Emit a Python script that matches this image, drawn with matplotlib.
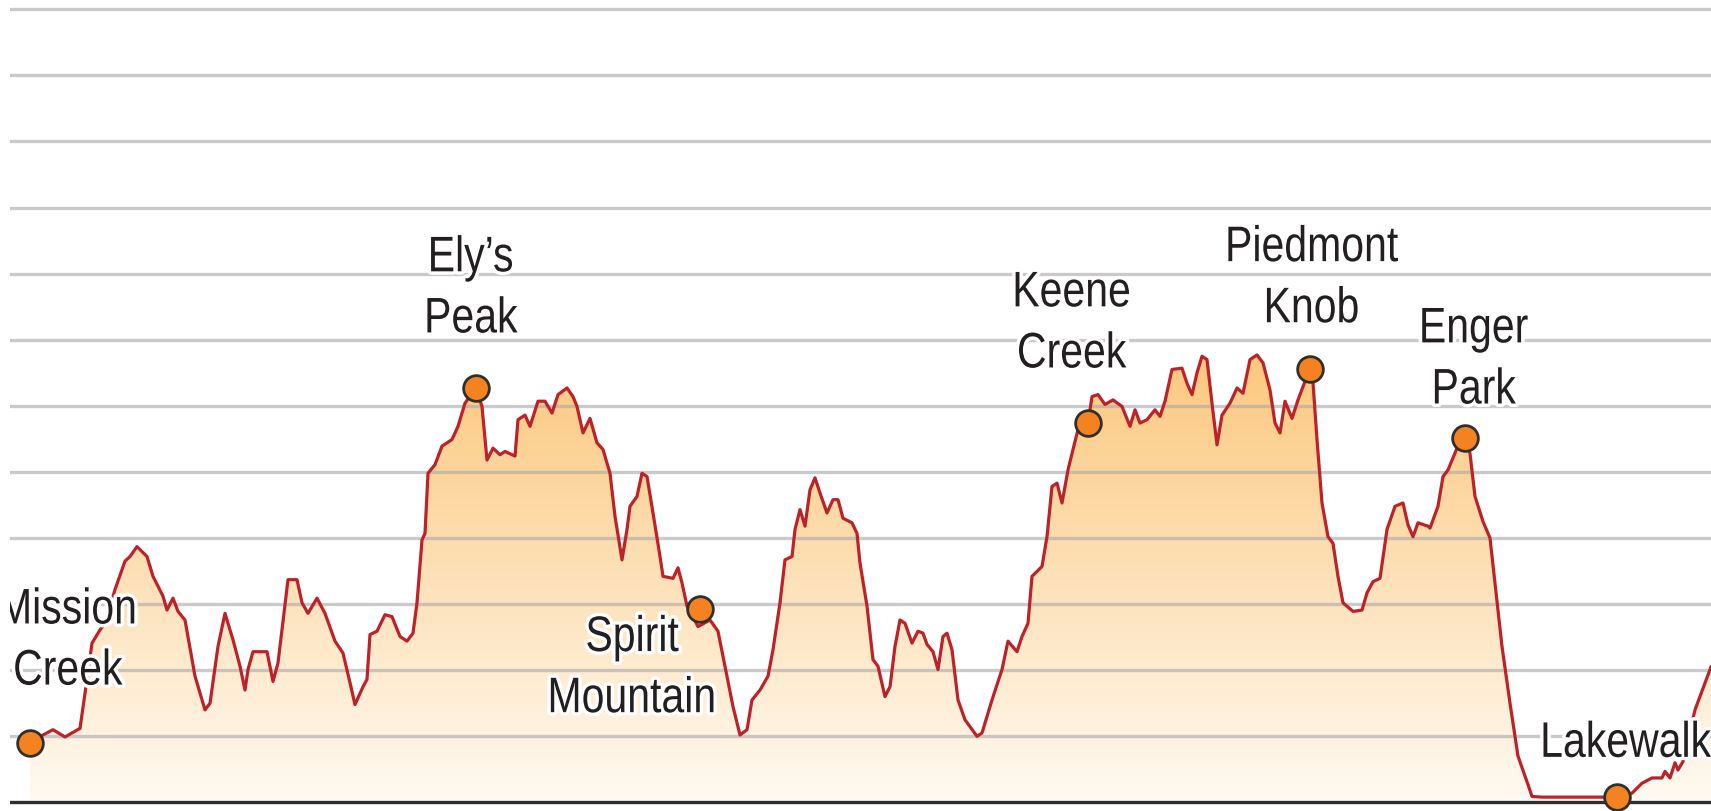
import matplotlib
matplotlib.use("Agg")
import matplotlib.pyplot as plt
import matplotlib.patheffects as pe
from matplotlib.colors import LinearSegmentedColormap
from matplotlib.transforms import Affine2D
import numpy as np

# elevation profile: distance along the trail and elevation (ft)
dist = [0.0, 1.3, 2.3, 3.5, 5.0, 5.5, 6.2, 7.0, 7.5, 8.5,
        9.5, 10.0, 10.7, 11.7, 12.3, 13.3, 13.7, 14.3, 14.8, 15.5,
        16.5, 17.5, 18.0, 18.8, 19.5, 20.3, 21.0, 21.5, 21.8, 22.3,
        23.7, 24.3, 24.8, 25.8, 26.7, 27.2, 27.8, 28.7, 29.5, 30.5,
        31.3, 32.0, 32.5, 33.3, 33.7, 34.0, 34.7, 35.5, 36.2, 37.0,
        37.7, 38.3, 38.7, 39.2, 39.5, 39.8, 40.5, 41.2, 42.2, 42.8,
        43.5, 44.2, 44.6, 45.2, 45.7, 46.3, 47.0, 47.5, 48.5, 48.8,
        49.5, 50.0, 50.8, 51.5, 52.2, 52.8, 53.7, 54.3, 54.7, 55.3,
        56.0, 56.7, 57.3, 58.0, 58.5, 59.2, 59.7, 60.0, 60.7, 61.2,
        61.7, 62.3, 63.0, 63.3, 64.3, 64.8, 65.2, 65.7, 66.3, 66.8,
        68.0, 68.8, 69.5, 70.3, 71.0, 71.7, 72.2, 73.0, 73.8, 74.3,
        75.0, 75.5, 76.2, 76.5, 77.0, 77.5, 78.0, 78.5, 79.0, 79.7,
        80.3, 80.8, 81.3, 82.2, 82.7, 83.0, 83.7, 84.3, 84.8, 85.5,
        86.0, 86.5, 87.0, 87.5, 88.2, 88.8, 89.3, 89.7, 90.3, 90.8,
        91.3, 91.7, 92.2, 92.8, 93.5, 94.7, 95.2, 96.2, 97.2, 97.8,
        98.7, 99.2, 99.8, 100.2, 101.2, 101.7, 102.2, 102.7, 103.2, 103.8,
        104.3, 104.8, 105.8, 106.2, 106.8, 107.5, 108.3, 109.2, 110.0, 110.5,
        111.0, 111.7, 112.5, 113.0, 113.5, 114.2, 115.2, 115.7, 116.2, 116.7,
        117.2, 117.7, 118.2, 118.7, 119.2, 120.0, 120.7, 121.3, 122.0, 122.7,
        123.3, 124.0, 124.5, 125.0, 125.5, 126.2, 126.8, 127.5, 128.0, 128.3,
        128.7, 129.2, 129.8, 130.3, 130.8, 131.3, 132.3, 133.2, 133.7, 134.3,
        135.0, 135.7, 136.5, 137.3, 137.8, 138.3, 138.8, 139.8, 140.0, 140.8,
        141.3, 141.8, 142.7, 143.5, 144.0, 144.5, 145.3, 146.0, 146.5, 147.2,
        148.0, 148.8, 149.8, 150.2, 151.2, 157.5, 158.7, 160.2, 161.2, 162.2,
        163.2, 163.5, 164.0, 164.5, 164.8, 165.3, 166.5, 168.1]
elev = [692, 702, 710, 699, 712, 765, 841, 861, 871, 922,
        965, 972, 987, 972, 942, 912, 891, 909, 889, 876,
        791, 740, 750, 836, 886, 846, 806, 770, 801, 828,
        828, 783, 811, 937, 937, 902, 886, 909, 886, 844,
        826, 781, 748, 775, 786, 854, 859, 884, 881, 851,
        844, 856, 902, 997, 1007, 1098, 1111, 1139, 1149, 1169,
        1204, 1219, 1227, 1199, 1118, 1136, 1126, 1131, 1124, 1179,
        1186, 1169, 1207, 1207, 1189, 1217, 1227, 1214, 1199, 1159,
        1181, 1144, 1134, 1098, 1033, 967, 1013, 1048, 1063, 1098,
        1093, 1038, 972, 942, 939, 955, 932, 897, 881, 866,
        876, 859, 806, 745, 702, 710, 755, 770, 791, 831,
        902, 967, 972, 1013, 1043, 1018, 1073, 1091, 1068, 1038,
        1058, 1058, 1030, 1023, 1007, 962, 897, 816, 806, 760,
        775, 836, 876, 871, 841, 859, 856, 839, 828, 801,
        851, 856, 831, 755, 725, 700, 705, 755, 801, 844,
        828, 851, 871, 942, 957, 1002, 1078, 1083, 1053, 1103,
        1134, 1164, 1174, 1214, 1217, 1202, 1209, 1199, 1169, 1194,
        1174, 1179, 1194, 1184, 1207, 1255, 1257, 1234, 1217, 1250,
        1275, 1270, 1204, 1141, 1186, 1204, 1227, 1219, 1270, 1277,
        1265, 1224, 1174, 1159, 1207, 1181, 1209, 1237, 1255, 1235,
        1149, 1053, 1002, 992, 942, 902, 889, 891, 917, 934,
        939, 1013, 1048, 1053, 1020, 1002, 1023, 1018, 1015, 1048,
        1093, 1103, 1136, 1151, 1128, 1063, 1025, 1000, 932, 836,
        750, 670, 627, 609, 608, 608, 608, 614, 629, 637,
        637, 647, 637, 660, 649, 662, 740, 805]

stops = ["Mission\nCreek", "Ely\u2019s\nPeak", "Spirit\nMountain", "Keene\nCreek",
         "Piedmont\nKnob", "Enger\nPark", "Lakewalk"]
stop_dist = [0.0, 44.6, 67.0, 105.8, 128.0, 143.5, 158.7]
stop_elev = [690, 1227, 892, 1174, 1255, 1151, 608]

# label offsets from each marker, in points (baseline of the last line)
label_offsets = [(27, 42), (-4, 40), (-49, -74), (-12, 40), (1, 34), (6, 25), (6, 29)]

SQUEEZE = 0.82  # no condensed face installed, so narrow the glyphs


def narrow(tpath, affine):
    ext = tpath.get_extents()
    cx = (ext.x0 + ext.x1) / 2
    return Affine2D().translate(-cx, 0).scale(SQUEEZE, 1).translate(cx, 0) + affine


class NarrowStroke(pe.Stroke):
    def draw_path(self, renderer, gc, tpath, affine, rgbFace=None):
        super().draw_path(renderer, gc, tpath, narrow(tpath, affine), rgbFace)


class NarrowNormal(pe.Normal):
    def draw_path(self, renderer, gc, tpath, affine, rgbFace=None):
        super().draw_path(renderer, gc, tpath, narrow(tpath, affine), rgbFace)


plt.rcParams['font.family'] = ['Liberation Sans', 'DejaVu Sans']

fig = plt.figure(figsize=(17.11, 8.11), dpi=100)
ax = fig.add_axes([10 / 1711, 0, 1 - 10 / 1711, 1])

# gradient fill under the profile
grad = np.linspace(0, 1, 256).reshape(-1, 1)
cmap = LinearSegmentedColormap.from_list("fill", ["#fffaf2", "#fcc67a"])
img = ax.imshow(grad, cmap=cmap, aspect="auto", origin="lower",
                extent=(dist[0], dist[-1], 600, 1300), zorder=1)
poly = ax.fill_between(dist, elev, 600, color="none", lw=0)
img.set_clip_path(poly.get_paths()[0], transform=ax.transData)

ax.plot(dist, elev, color="#be2229", lw=2.3, zorder=3, solid_joinstyle="round")
ax.axhline(600, color="#2e2e2e", lw=2.4, zorder=3.5)

ax.plot(stop_dist, stop_elev, "o", ms=18.5, mfc="#f58220", mec="#2f2f2f", mew=2, zorder=4)

for name, x, y, off in zip(stops, stop_dist, stop_elev, label_offsets):
    ax.annotate(name, (x, y), xytext=off, textcoords="offset points",
                ha="center", va="baseline", fontsize=36, color="#231f20",
                linespacing=1.42, zorder=5, annotation_clip=False, clip_on=True,
                path_effects=[NarrowStroke(linewidth=5, foreground="white"), NarrowNormal()])

ax.set_yticks(range(700, 1801, 100))
ax.yaxis.grid(True, color="#a8a8a8", alpha=0.6, lw=2.4)
ax.set_axisbelow(False)
ax.tick_params(left=False, bottom=False, labelleft=False, labelbottom=False)
for s in ax.spines.values():
    s.set_visible(False)

ax.set_xlim(-2.0, 168.1)
ax.set_ylim(587, 1814)

plt.savefig("out.png", dpi=100)
